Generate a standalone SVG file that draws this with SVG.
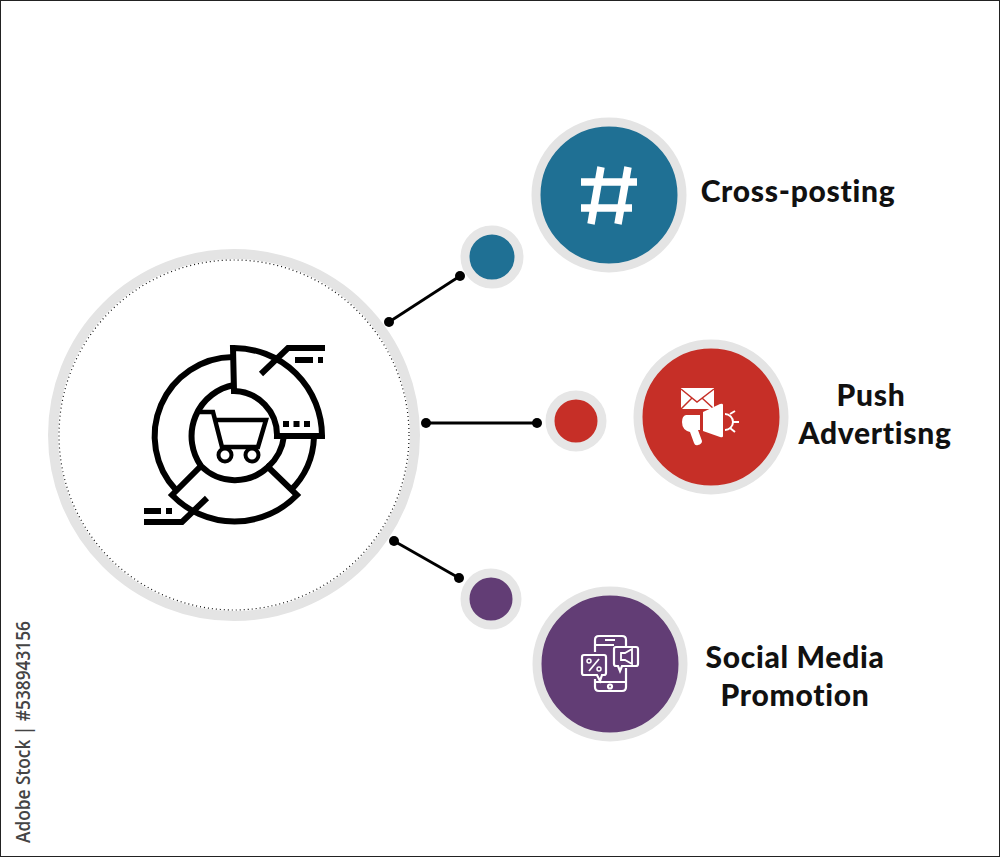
<svg xmlns="http://www.w3.org/2000/svg" width="1000" height="857" viewBox="0 0 1000 857">
<style>
.label{font-family:"Lato","Liberation Sans",sans-serif;font-weight:900;font-size:30px;letter-spacing:0.7px;font-variant-ligatures:none;fill:#111;text-anchor:middle}
.ring{fill:none;stroke:#e4e4e4}
.conn{stroke:#000;stroke-width:2.800;fill:none}
.dot{fill:#000}
.ic{fill:none;stroke:#000;stroke-width:6}
.w{fill:#fff;stroke:none}
.wl{fill:none;stroke:#fff;stroke-width:2.200}
</style>
<rect x="0.500" y="0.500" width="999" height="856" fill="#fff" stroke="#222"/>
<g id="hub">
<circle class="ring" cx="234" cy="435" r="181" stroke-width="10"/>
<circle cx="234" cy="435" r="175" fill="none" stroke="#111" stroke-width="1.200" stroke-dasharray="1 3"/>
<g class="ic">
<path d="M233 357A79 79 0 0 0 176 490"/>
<path d="M290 491A79 79 0 0 0 314 437"/>
<path d="M233 348A88 88 0 0 1 322 436H277A44 44 0 0 0 234 391Z"/>
<path d="M172 495L201 466A48 48 0 0 0 268 467L297 495A87 87 0 0 1 172 495Z"/>
<path d="M284 436A50 50 0 0 1 268 467M201 466A52 52 0 0 1 234 385"/>
<path d="M261 374L288 348H325"/>
<path d="M295 360H323" stroke-dasharray="18 5 6 50"/>
<path d="M283 424H314" stroke-dasharray="6 4.500"/>
<path d="M207 498L182 522H144"/>
<path d="M144 511H173" stroke-dasharray="17 5 6 50"/>
<path d="M200 412H213L222 447H258L266 420H216" stroke-width="4.500"/>
<circle cx="225" cy="455" r="6.500" stroke-width="4"/>
<circle cx="252" cy="455" r="6.500" stroke-width="4"/>
</g>
</g>
<g id="connectors">
<path class="conn" d="M389 322L460 276"/><circle class="dot" cx="389" cy="322" r="5"/><circle class="dot" cx="460" cy="276" r="5"/>
<path class="conn" d="M426 423H537"/><circle class="dot" cx="426" cy="423" r="5"/><circle class="dot" cx="537" cy="423" r="5"/>
<path class="conn" d="M394 541L459 578"/><circle class="dot" cx="394" cy="541" r="5"/><circle class="dot" cx="459" cy="578" r="5"/>
</g>
<g id="node-cross-posting">
<circle cx="492" cy="257" r="27" fill="#1f7094" stroke="#e6e6e6" stroke-width="9"/>
<circle cx="609" cy="195" r="73" fill="#1f7094" stroke="#e4e4e4" stroke-width="9"/>
<path d="M601 167L591 224M628 167L618 224M581 182H637M581 208H632" fill="none" stroke="#fff" stroke-width="7.500"/>
<text class="label" x="798" y="202">Cross-posting</text>
</g>
<g id="node-push">
<circle cx="576" cy="421" r="26" fill="#c62f27" stroke="#e6e6e6" stroke-width="9"/>
<circle cx="711" cy="417" r="73" fill="#c62f27" stroke="#e4e4e4" stroke-width="9"/>
<rect class="w" x="681" y="388" width="33" height="21"/>
<path d="M681 389L697 402L714 389M681 409L692 398M714 409L702 398" fill="none" stroke="#c62f27" stroke-width="1.500"/>
<path class="w" d="M686 415H700V430H698L702 441Q702 444 698 445Q695 446 694 443L690 432Q682 430 682 422Q682 416 686 415Z"/>
<path class="w" d="M703 412L720 404Q723 403 723 405V436Q723 438 720 437L703 431Z"/>
<path d="M725 414A8 8 0 0 1 725 430" fill="none" stroke="#fff" stroke-width="2"/>
<path d="M730 414L735 411M733 422H739M730 428L735 432" fill="none" stroke="#fff" stroke-width="2"/>
<text class="label" x="871" y="406">Push</text>
<text class="label" x="875" y="444">Advertisng</text>
</g>
<g id="node-social">
<circle cx="491" cy="599" r="26" fill="#623d75" stroke="#e6e6e6" stroke-width="9"/>
<circle cx="610" cy="664" r="73" fill="#623d75" stroke="#e4e4e4" stroke-width="9"/>
<g class="wl">
<path d="M595 652V640Q595 636 599 636H622Q626 636 626 640V647M626 668V687Q626 691 622 691H599Q595 691 595 687V679"/>
<path d="M595 682H626M595 645H614M605 640H615"/>
<circle cx="610" cy="686.500" r="2"/>
<path d="M584 655H604Q606 655 606 657V673Q606 675 604 675H602L600 681L597 675H584Q582 675 582 673V657Q582 655 584 655Z"/>
<path d="M589 671L599 659" stroke-width="1.800"/>
<circle cx="589" cy="661" r="2" stroke-width="1.500"/><circle cx="599" cy="669" r="2" stroke-width="1.500"/>
<path d="M616 647H636Q638 647 638 649V664Q638 666 636 666H622L620 671L618 666H616Q614 666 614 664V649Q614 647 616 647Z"/>
<path d="M621 653H625L632 649V664L625 660H621Z" stroke-width="1.800"/>
</g>
<text class="label" x="795" y="668">Social Media</text>
<text class="label" x="795" y="706">Promotion</text>
</g>
<text transform="translate(30 843) rotate(-90)" font-family="Open Sans,Noto Sans,sans-serif" font-size="19" font-weight="600" fill="#444" textLength="222" lengthAdjust="spacingAndGlyphs">Adobe Stock | #538943156</text>
</svg>
